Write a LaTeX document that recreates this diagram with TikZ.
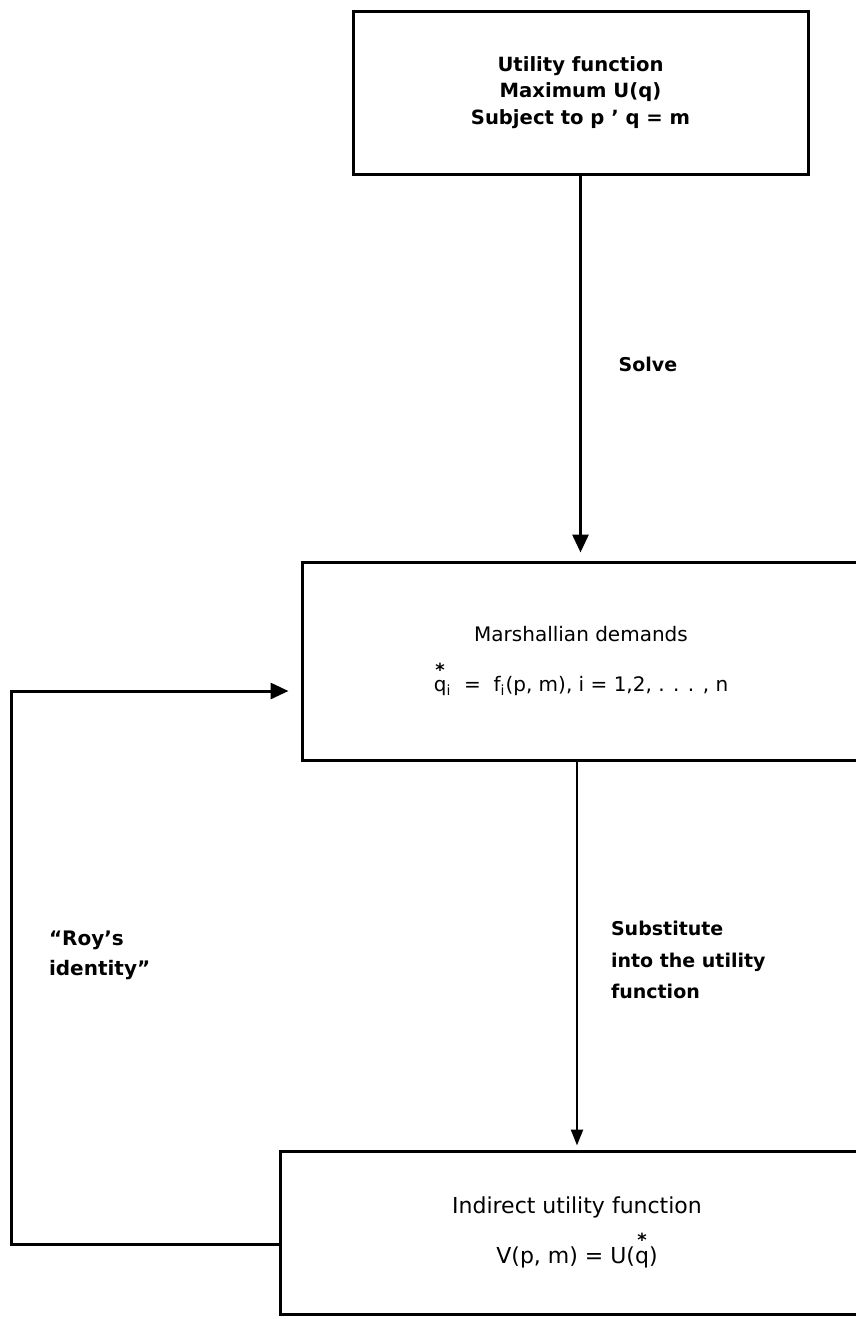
\documentclass[tikz,border=0pt]{standalone}
\usepackage{amsmath}
\usepackage{fontspec}
\setmainfont{DejaVu Sans}
\usetikzlibrary{arrows.meta}
\newcommand{\qs}{$\overset{\text{\bfseries\small *}}{\text{q}}$}

\begin{document}
\begin{tikzpicture}[x=0.5pt,y=-0.5pt,
  box/.style={draw,line width=1.5pt,align=center,inner sep=0pt},
  lbl/.style={font=\bfseries\fontsize{9.5}{15.5}\selectfont,align=left},
  arr/.style={line width=1.5pt,-{Triangle[length=9pt,width=8pt]}}]
  \useasboundingbox (0,0) rectangle (856,1319);
  \node[box,minimum width=227.5pt,minimum height=81.5pt,font=\bfseries\fontsize{9.8}{13.25}\selectfont] (utility) at (580.5,92.5) {Utility function\\Maximum U(q)\\Subject to p ' q = m};
  \node[box,minimum width=279pt,minimum height=99pt,font=\fontsize{10}{25}\selectfont] (demand) at (581,661) {Marshallian demands\\\qs\textsubscript{i}\ \ =\ \ f\textsubscript{i}(p, m), i = 1,2, . . . , n};
  \node[box,minimum width=297pt,minimum height=81.5pt,font=\fontsize{11}{25}\selectfont] (indirect) at (577,1232.5) {Indirect utility function\\V(p, m) = U(\qs)};
  \node[lbl] (solve) at (648,364) {Solve};
  \node[lbl,anchor=west,font=\bfseries\fontsize{9.5}{15.75}\selectfont] (subst) at (604,960) {Substitute\\into the utility\\function};
  \node[lbl,anchor=west,font=\bfseries\fontsize{10}{15}\selectfont] (roy) at (42,955) {``Roy's\\identity''};
  \draw[arr,shorten >=4pt] (utility.south) -- (utility.south |- demand.north);
  \draw[line width=1.2pt,-{Triangle[length=8pt,width=6pt]},shorten >=2pt] (demand.south -| indirect) -- (indirect.north);
  \draw[arr,shorten >=6pt] ([yshift=-5.75pt]indirect.west) -| ([xshift=-144.5pt,yshift=-15pt]demand.west) -- ([yshift=-15pt]demand.west);
\end{tikzpicture}
\end{document}
